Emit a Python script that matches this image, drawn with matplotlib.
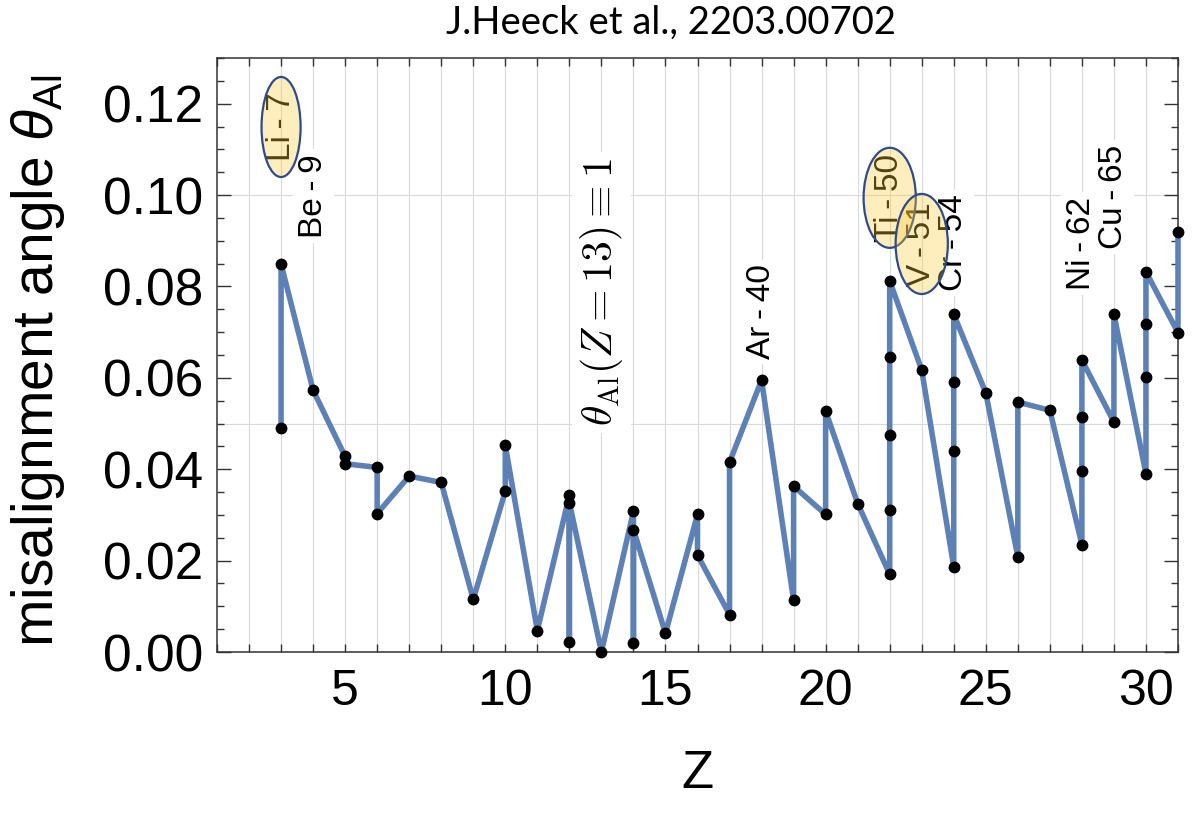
"""
Misalignment angle theta_Al versus Z, recreated from J.Heeck et al., 2203.00702.
"""
import matplotlib
matplotlib.use("Agg")
import matplotlib.pyplot as plt
from matplotlib.patches import Ellipse
from matplotlib.ticker import MultipleLocator, FixedLocator

# ---------------------------------------------------------------------------
# isotope points, in the order the line runs through them
Z_PATH = [3, 3, 4, 5, 5, 6, 6, 7, 8, 9, 10, 10, 11, 12, 12, 12, 13,
          14, 14, 14, 15, 16, 16, 17, 17, 18, 19, 19, 20, 20, 21,
          22, 22, 22, 22, 22, 23, 24, 24, 24, 24, 25, 26, 26, 27,
          28, 28, 28, 28, 29, 29, 30, 30, 30, 30, 31, 31]
THETA_PATH = [0.0491, 0.0849, 0.0573, 0.0428, 0.0412, 0.0404, 0.0303,
              0.0385, 0.0371, 0.0115, 0.0352, 0.0452, 0.0047, 0.0343,
              0.0021, 0.0327, 0.0000, 0.0308, 0.0020, 0.0268, 0.0041,
              0.0301, 0.0212, 0.0082, 0.0415, 0.0595, 0.0113, 0.0363,
              0.0301, 0.0527, 0.0325, 0.0170, 0.0310, 0.0476, 0.0646,
              0.0812, 0.0617, 0.0186, 0.0440, 0.0591, 0.0739, 0.0567,
              0.0208, 0.0547, 0.0529, 0.0235, 0.0397, 0.0515, 0.0639,
              0.0503, 0.0739, 0.0390, 0.0602, 0.0717, 0.0832, 0.0699,
              0.0920]

# labelled isotopes (thin spaces round the short dash, as in the paper)
ISO_NAMES   = ["Li\u2009-\u20097", "Be\u2009-\u20099", "Ar\u2009-\u200940",
               "Ti\u2009-\u200950", "V\u2009-\u200951", "Cr\u2009-\u200954",
               "Ni\u2009-\u200962", "Cu\u2009-\u200965"]
ISO_Z       = [3, 4, 18, 22, 23, 24, 28, 29]
ISO_LABEL_Y = [0.1149, 0.0998, 0.0744, 0.0994, 0.0893, 0.0895, 0.0895, 0.0996]
HIGHLIGHT   = [True, False, False, True, True, False, False, False]

X_TICKS = [5, 10, 15, 20, 25, 30]
Y_TICKS = [0.00, 0.02, 0.04, 0.06, 0.08, 0.10, 0.12]

LINE_COLOR = "#5E81B5"
GRID_COLOR = "#dadada"
EDGE_COLOR = "#333333"

# ---------------------------------------------------------------------------
plt.rcParams["font.family"] = ["Liberation Sans", "DejaVu Sans"]
plt.rcParams["mathtext.fontset"] = "custom"
plt.rcParams["mathtext.rm"] = "Liberation Sans"
plt.rcParams["mathtext.it"] = "Liberation Sans:italic"

W, H = 1203, 813
fig = plt.figure(figsize=(W / 100, H / 100), dpi=100, facecolor="white")
ax = fig.add_axes([217 / W, 1 - 652 / H, (1178 - 217) / W, (652 - 58) / H])

ax.set_xlim(1, 31)
ax.set_ylim(0, 0.130)

# grid: every integer Z, and 0.05 / 0.10 in theta
for z in range(2, 31):
    ax.axvline(z, color=GRID_COLOR, lw=0.8, zorder=0)
for y in (0.05, 0.10):
    ax.axhline(y, color=GRID_COLOR, lw=0.8, zorder=0)

ax.plot(Z_PATH, THETA_PATH, color=LINE_COLOR, lw=4.0, zorder=3,
        solid_joinstyle="round", solid_capstyle="round", clip_on=False)
ax.plot(Z_PATH, THETA_PATH, "o", color="black", ms=7.5, zorder=4, clip_on=False)

# ── isotope labels ────────────────────────────────────────────────────────
for name, z, y, hl in zip(ISO_NAMES, ISO_Z, ISO_LABEL_Y, HIGHLIGHT):
    if hl:
        ax.text(z, y, name, rotation=90, ha="center", va="center",
                fontsize=24, color="black", zorder=5)
        w = 1.22 if z == 3 else 1.63
        ax.add_patch(Ellipse((z, y), w, 0.0219,
                             facecolor=(1.0, 0.80, 0.22, 0.33),
                             edgecolor="#2F4B8A", lw=1.6, zorder=6))
    else:
        ax.text(z, y, name, rotation=90, ha="center", va="center",
                fontsize=24, color="black", zorder=5,
                bbox=dict(boxstyle="square,pad=0.15", fc="white", ec="none"))

ax.text(13, 0.0787, r"$\theta_{\rm Al}(Z=13)\equiv 1$", rotation=90,
        ha="center", va="center", fontsize=30, math_fontfamily="cm",
        zorder=5, bbox=dict(boxstyle="square,pad=0.15", fc="white", ec="none"))

# ── axes styling ──────────────────────────────────────────────────────────
ax.xaxis.set_major_locator(FixedLocator(X_TICKS))
ax.xaxis.set_minor_locator(MultipleLocator(1))
ax.yaxis.set_major_locator(FixedLocator(Y_TICKS))
ax.yaxis.set_minor_locator(MultipleLocator(0.005))
ax.set_yticklabels([f"{v:.2f}" for v in Y_TICKS])

ax.tick_params(which="both", direction="in", top=True, right=True,
               color=EDGE_COLOR, width=1.0)
ax.tick_params(axis="x", which="both", length=6, labelsize=36, pad=12)
ax.tick_params(axis="y", which="major", length=10, labelsize=37, pad=10)
ax.tick_params(axis="y", which="minor", length=5)
for spine in ax.spines.values():
    spine.set_edgecolor(EDGE_COLOR)
    spine.set_linewidth(1.1)

ax.set_xlabel("Z", fontsize=38, va="center")
ax.xaxis.set_label_coords(0.5, -0.205)
ax.set_ylabel(r"misalignment angle $\theta_{\rm Al}$", fontsize=41, va="center")
ax.yaxis.set_label_coords(-0.186, 0.49)

fig.text(671 / W, 1 - 23 / H, "J.Heeck et al., 2203.00702",
         ha="center", va="center", fontsize=27.5, family="Lato")

fig.savefig("out.png", dpi=100, facecolor="white")
